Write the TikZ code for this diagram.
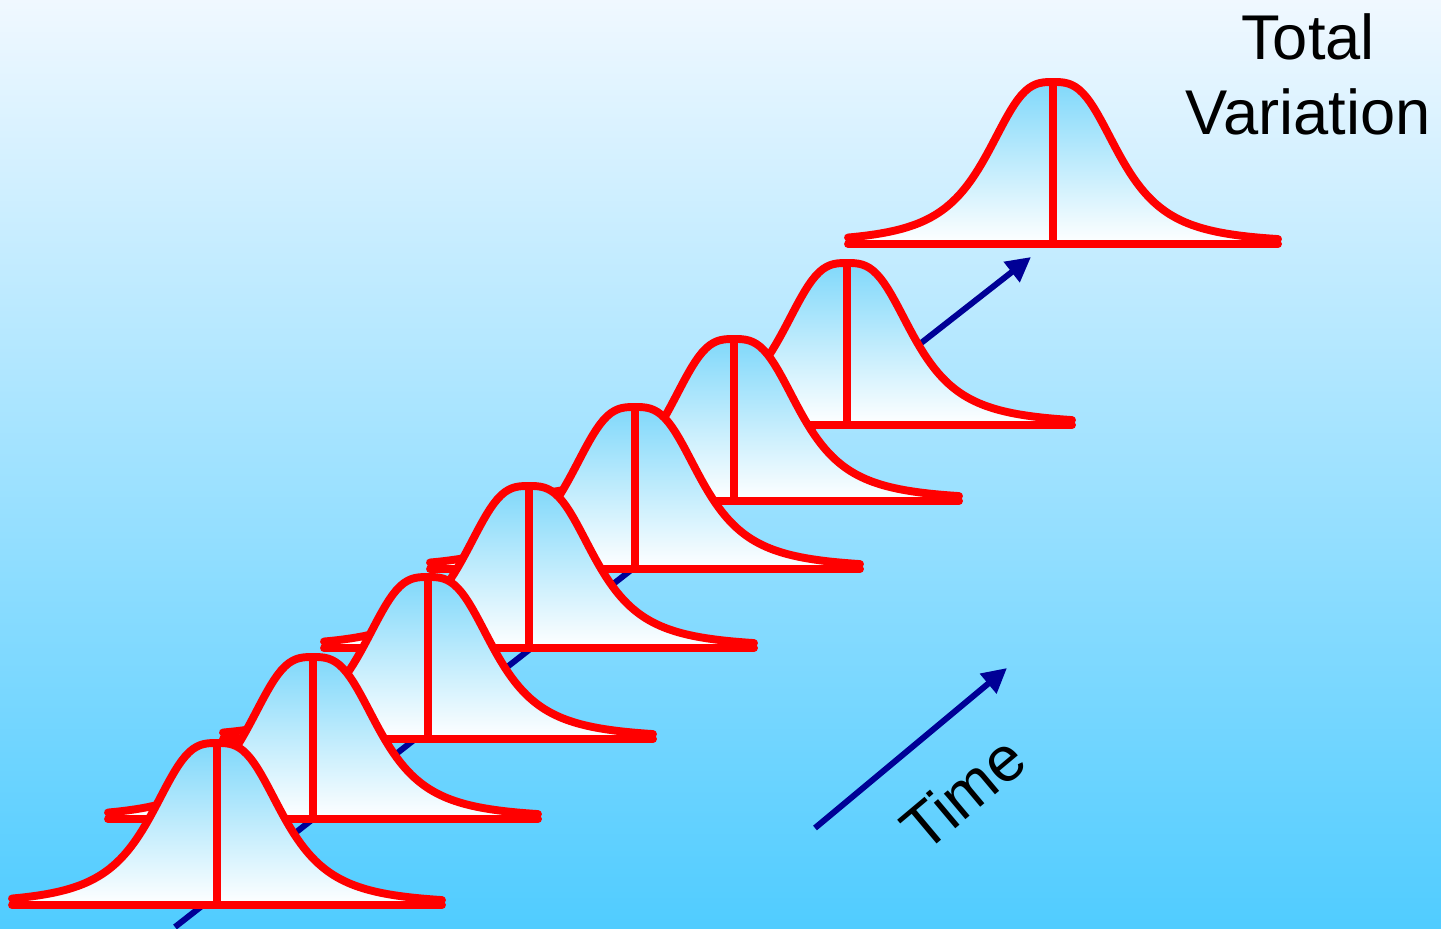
\documentclass[tikz,border=0pt]{standalone}
\usepackage{fontspec}
\setmainfont{Liberation Sans}
\usepackage{xcolor}
\usetikzlibrary{arrows.meta,positioning}
\definecolor{skytop}{RGB}{240,248,255}
\definecolor{skybottom}{RGB}{80,204,255}
\definecolor{bellblue}{RGB}{128,216,250}
\definecolor{arrowblue}{RGB}{0,0,150}

\begin{document}
\begin{tikzpicture}[x=0.02cm, y=-0.02cm,
  redline/.style={draw=red, line width=4.5pt, line cap=round, line join=round},
  timearrow/.style={draw=arrowblue, line width=3.4pt, -{Triangle[length=14pt, width=14pt]}},
  label/.style={inner sep=0pt, font=\fontsize{36}{42.7}\selectfont, align=center},
  bell/.pic={
    \shade[top color=bellblue, bottom color=white]
      (-205,0) -- plot[domain=-205:225, samples=120] (\x, {-162/(1+pow(abs(\x)/71,3))}) -- (225,0) -- cycle;
    \draw[redline] plot[domain=-205:225, samples=120] (\x, {-162/(1+pow(abs(\x)/71,3))});
    \draw[redline] (-205,0) -- (225,0);
    \draw[redline] (0,0) -- (0,-162);
  }
]
  \useasboundingbox (0,0) rectangle (1441,929);
  \shade[top color=skytop, bottom color=skybottom] (0,0) rectangle (1441,929);

  \coordinate (drift start) at (175,927);
  \coordinate (drift end) at (1031,257);
  \draw[timearrow] (drift start) -- (drift end);

  \foreach \px/\py in {1053/244, 847/425, 734/501, 635/569, 529/648, 428/739, 313/819, 217/905}
    \pic at (\px,\py) {bell};

  \node[label, anchor=south] (total) at (1308,135) {Total\\Variation};

  \coordinate (time start) at (815,828);
  \coordinate (time end) at (1007,668);
  \draw[timearrow] (time start) -- (time end);
  \node[label, anchor=base west, rotate=40] (time) at (924,855) {Time};
\end{tikzpicture}
\end{document}
